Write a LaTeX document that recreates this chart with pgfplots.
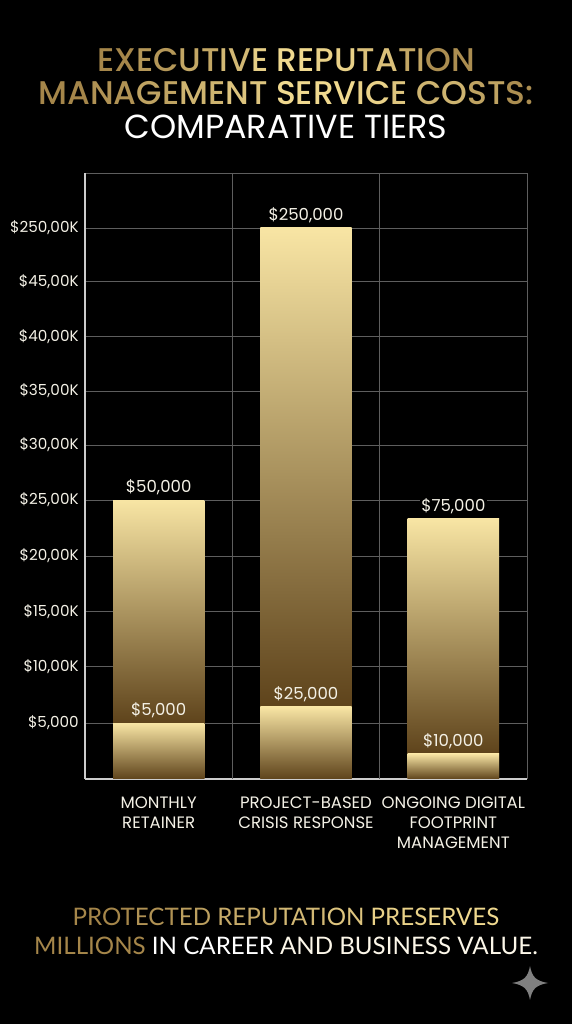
\documentclass[border=0pt]{standalone}
\usepackage{fontspec}
\usepackage{pgfplots}
\pgfplotsset{compat=1.18}
\setmainfont{Poppins}
\newfontfamily\pmed{Poppins Medium}
\newfontfamily\lato{Lato}
\definecolor{gold}{HTML}{F0D98F}
\definecolor{golddark}{HTML}{A5864A}
\definecolor{barlight}{HTML}{F8E5A4}
\definecolor{bardark}{HTML}{5E431B}
\definecolor{lbl}{HTML}{F4F1E6}
\definecolor{gridc}{HTML}{5E5E5E}
\newcommand\gl[2]{\textcolor{gold!#1!golddark}{#2}}
\pgfdeclareverticalshading{outerA}{100bp}{color(0bp)=(bardark); color(35bp)=(bardark); color(75bp)=(barlight); color(100bp)=(barlight)}
\pgfdeclareverticalshading{outerB}{100bp}{color(0bp)=(bardark); color(31.5bp)=(bardark); color(75bp)=(barlight); color(100bp)=(barlight)}
\pgfdeclareverticalshading{outerC}{100bp}{color(0bp)=(bardark); color(29.8bp)=(bardark); color(75bp)=(barlight); color(100bp)=(barlight)}
\begin{document}
\begin{tikzpicture}[x=0.75pt,y=0.75pt]
\fill[black] (0,0) rectangle (572,1024);
\begin{axis}[
  at={(63.75pt,183.75pt)}, anchor=south west,
  scale only axis, width=331.5pt, height=454.5pt,
  xmin=0, xmax=3, ymin=0, ymax=55000,
  ybar, bar shift=0pt, bar width=68.5pt,
  scaled y ticks=false,
  axis lines=left,
  axis line style={-,draw=white!80!black,line width=0.9pt},
  major tick length=0pt,
  ymajorgrids, grid style={gridc,line width=0.7pt},
  extra x tick style={grid=major},
  extra x ticks={1,2,3}, extra x tick labels={,,},
  xtick={0.5,1.5,2.5},
  xticklabels={{MONTHLY\\RETAINER},{PROJECT-BASED\\CRISIS RESPONSE},{ONGOING DIGITAL\\FOOTPRINT\\MANAGEMENT}},
  xticklabel style={align=center,font=\fontsize{12.4}{15}\selectfont,text=lbl,yshift=-9.75pt},
  ytick={5080,10170,15160,20240,25320,30310,35210,40120,45110,50010,55000},
  yticklabels={{\$5,000},{\$10,00K},{\$15,00K},{\$20,00K},{\$25,00K},{\$30,00K},{\$35,00K},{\$40,00K},{\$45,00K},{\$250,00K},{}},
  yticklabel style={font=\fontsize{11.4}{13}\selectfont,text=lbl,xshift=-1.2pt},
  point meta=explicit symbolic,
  nodes near coords,
  every node near coord/.append style={font=\fontsize{12.4}{13}\selectfont,text=lbl,inner sep=1pt,yshift=2.5pt},
]
\addplot[draw=none,shade,shading=outerA,every node near coord/.append style={fill=black}] coordinates {(0.5,25320)[\$50,000]};
\addplot[draw=none,shade,shading=outerB,every node near coord/.append style={fill=black}] coordinates {(1.5,50010)[\$250,000]};
\addplot[draw=none,shade,shading=outerC,every node near coord/.append style={fill=black}] coordinates {(2.5,23600)[\$75,000]};
\addplot[draw=none,shade,top color=barlight,bottom color=bardark] coordinates {(0.5,5080)[\$5,000]};
\addplot[draw=none,shade,top color=barlight,bottom color=bardark] coordinates {(1.5,6535)[\$25,000]};
\addplot[draw=none,shade,top color=barlight,bottom color=bardark] coordinates {(2.5,2270)[\$10,000]};
\end{axis}
\node[font=\pmed\fontsize{24.6}{24}\selectfont] at (286,964) {\gl{0}{EX}\gl{20}{EC}\gl{40}{UT}\gl{60}{IV}\gl{85}{E }\gl{100}{RE}\gl{90}{PU}\gl{70}{TA}\gl{40}{TI}\gl{10}{ON}};
\node[font=\pmed\fontsize{24.6}{24}\selectfont] at (286,931) {\gl{0}{MA}\gl{15}{NA}\gl{35}{GE}\gl{55}{ME}\gl{75}{NT }\gl{100}{SE}\gl{100}{RV}\gl{90}{IC}\gl{75}{E }\gl{55}{CO}\gl{35}{ST}\gl{10}{S:}};
\node[font=\fontsize{25}{25}\selectfont,text=white] at (286,897) {COMPARATIVE TIERS};
\node[font=\lato\fontsize{18.1}{19}\selectfont] at (286,107) {\gl{0}{PROT}\gl{15}{ECT}\gl{30}{ED }\gl{45}{REPU}\gl{60}{TATI}\gl{75}{ON }\gl{90}{PRES}\gl{100}{ERVES}};
\node[font=\lato\fontsize{18.1}{19}\selectfont] at (286,78) {\gl{0}{MILLIONS} \textcolor{white}{IN CAREER} \textcolor{white!80!gold}{AND BUSINESS VALUE.}};
\fill[black!50!white] (530,58) .. controls (532,47) and (536,43) .. (548,41)
  .. controls (536,39) and (532,35) .. (530,24)
  .. controls (528,35) and (524,39) .. (512,41)
  .. controls (524,43) and (528,47) .. cycle;
\end{tikzpicture}
\end{document}
